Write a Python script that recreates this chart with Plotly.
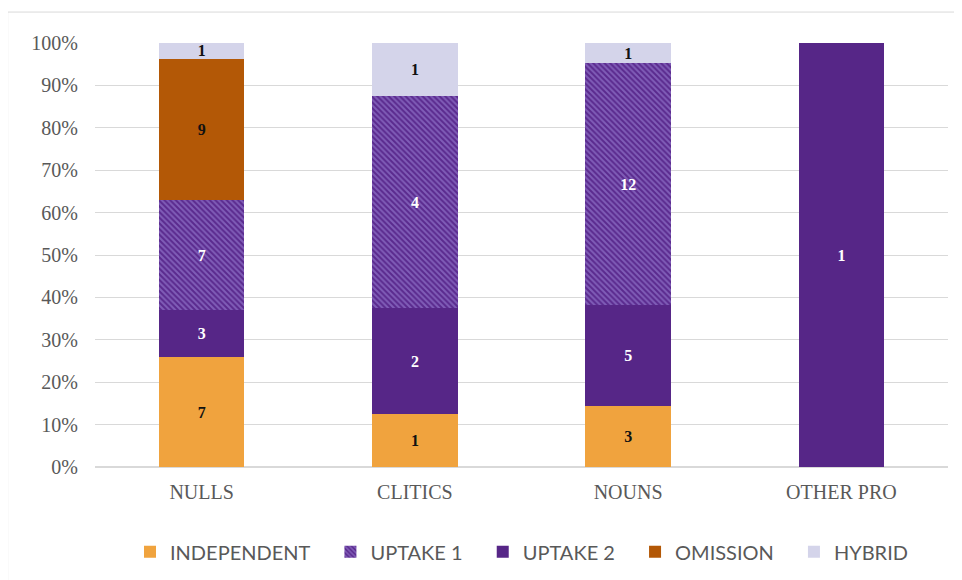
import plotly.graph_objects as go

categories = ["NULLS", "CLITICS", "NOUNS", "OTHER PRO"]
independent = [7, 1, 3, 0]
uptake1 = [7, 4, 12, 0]
uptake2 = [3, 2, 5, 1]
omission = [9, 0, 0, 0]
hybrid = [1, 1, 1, 0]

def labels(vals):
    return [str(v) if v else "" for v in vals]

fig = go.Figure()
serif = "Liberation Serif"
lab_font_dark = dict(family=serif, size=16, color="#111111")
lab_font_light = dict(family=serif, size=16, color="#ffffff")
pad = "\u2002\u00a0"

# stacking order bottom->top: INDEPENDENT, UPTAKE 2, UPTAKE 1, OMISSION, HYBRID
fig.add_trace(go.Bar(name="INDEPENDENT" + pad, x=categories, y=independent, text=labels(independent),
                     marker=dict(color="#F0A33E"), textfont=lab_font_dark, legendrank=1))
fig.add_trace(go.Bar(name="UPTAKE 2" + pad, x=categories, y=uptake2, text=labels(uptake2),
                     marker=dict(color="#562687"), textfont=lab_font_light, legendrank=3))
fig.add_trace(go.Bar(name="UPTAKE 1" + pad, x=categories, y=uptake1, text=labels(uptake1),
                     marker=dict(color="#5E3195",
                                 pattern=dict(shape="\\", bgcolor="#5A2A8E", fgcolor="#A690E0",
                                              size=4, solidity=0.5)),
                     textfont=lab_font_light, legendrank=2))
fig.add_trace(go.Bar(name="OMISSION" + pad, x=categories, y=omission, text=labels(omission),
                     marker=dict(color="#B35806"), textfont=lab_font_dark, legendrank=4))
fig.add_trace(go.Bar(name="HYBRID", x=categories, y=hybrid, text=labels(hybrid),
                     marker=dict(color="#D4D4EA"), textfont=lab_font_dark, legendrank=5))

fig.update_traces(textposition="inside", insidetextanchor="middle",
                  texttemplate="<b>%{text}</b>", marker_line_width=0,
                  constraintext="none", textangle=0)

fig.update_layout(
    barmode="stack", barnorm="percent", bargap=0.6,
    width=962, height=580,
    margin=dict(l=87, r=22, t=35, b=121),
    paper_bgcolor="white", plot_bgcolor="white",
    xaxis=dict(tickfont=dict(family=serif, size=20, color="#595959"), showgrid=False,
               showline=False, ticks="", ticklabelstandoff=11),
    yaxis=dict(range=[0, 100], dtick=10, ticksuffix="%", showgrid=True, gridcolor="#D9D9D9",
               gridwidth=1, zeroline=True, zerolinecolor="#D9D9D9",
               tickfont=dict(family=serif, size=20, color="#595959"), ticks="",
               ticklabelstandoff=16),
    legend=dict(orientation="h", x=0.5, xanchor="center", y=-0.2, yanchor="middle",
                font=dict(family="Lato", size=20, color="#595959"),
                traceorder="normal", itemwidth=30),
    shapes=[dict(type="rect", xref="paper", yref="paper", x0=-0.1024, x1=1.1,
                 y0=-0.35, y1=1.073, line=dict(color="#D9D9D9", width=1), layer="below")],
)

fig.write_html("out.html")
